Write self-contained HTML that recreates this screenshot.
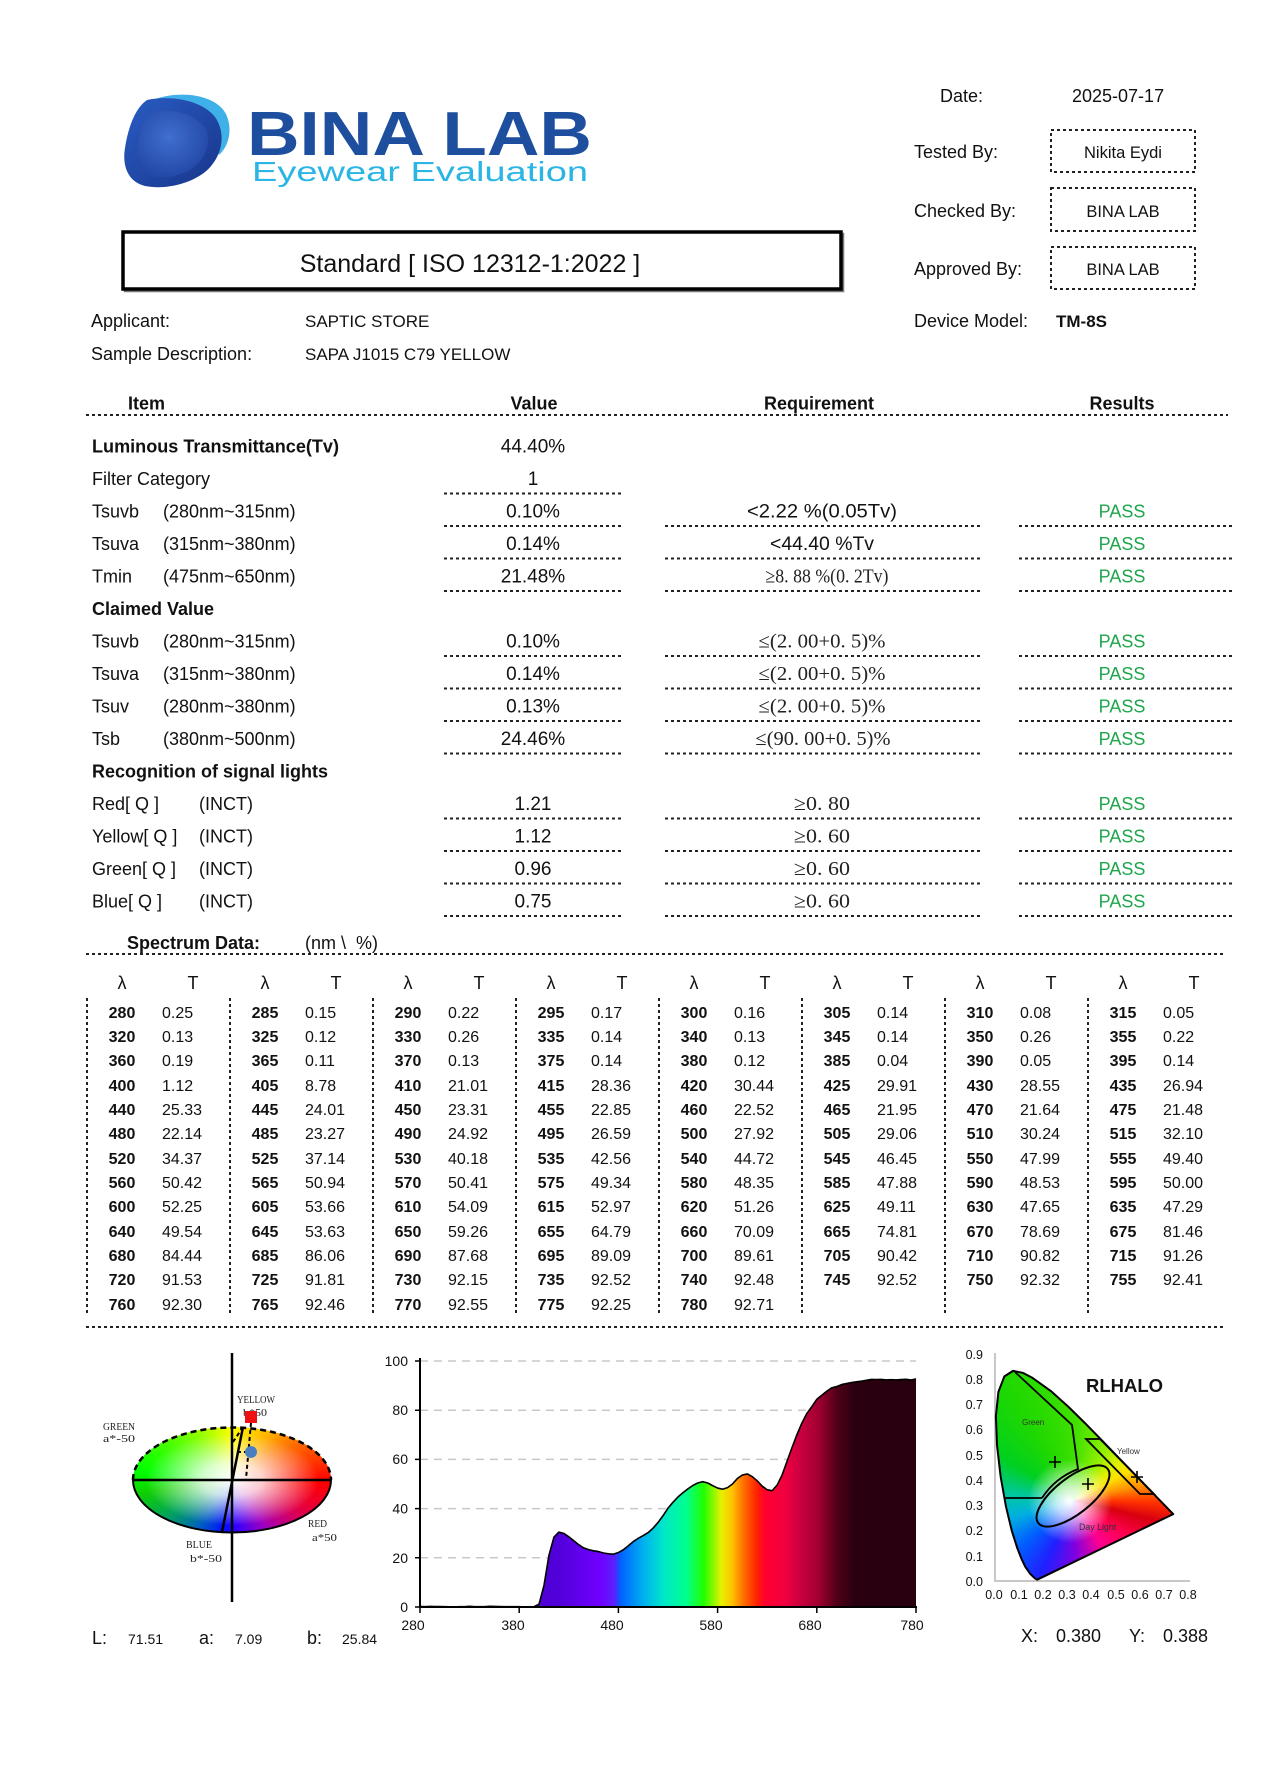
<!DOCTYPE html>
<html>
<head>
<meta charset="utf-8">
<style>
html,body{margin:0;padding:0;background:#fff}
body{width:1278px;height:1776px;position:relative;overflow:hidden;font-family:"Liberation Sans",sans-serif}
.lab{position:absolute;left:133px;top:1427px;width:198px;height:105px;border-radius:50%;
background:
radial-gradient(ellipse at 50% 50%, rgba(255,255,255,1) 0%, rgba(255,255,255,.8) 22%, rgba(255,255,255,0) 62%),
conic-gradient(from 0deg, #ffff00 0deg, #ffb000 40deg, #ff4000 75deg, #ff0000 92deg, #e0004a 115deg, #a000c0 145deg, #3000ff 175deg, #0010ff 190deg, #0060c0 215deg, #00a060 240deg, #10d000 262deg, #00ff00 275deg, #80ff00 318deg, #ffff00 360deg);}
.cie{position:absolute;left:990px;top:1365px;width:190px;height:220px;
background:
radial-gradient(circle at 80px 136px, rgba(255,255,255,1) 0px, rgba(255,255,255,.75) 14px, rgba(255,255,255,0) 42px),
conic-gradient(from 0deg at 85px 135px, #40e000 0deg, #90f000 30deg, #e0f000 50deg, #ffe000 62deg, #ff9000 78deg, #ff3000 92deg, #d80010 104deg, #ff0050 125deg, #ff0090 150deg, #8000e0 180deg, #2020ff 205deg, #0060ff 230deg, #00b0e0 255deg, #00c8a0 275deg, #00d020 300deg, #20d800 330deg, #40e000 360deg);
clip-path:polygon(47.2px 214.7px,44.9px 213.3px,43px 211.5px,39.9px 208.5px,35.1px 201.4px,31.6px 194.1px,27.1px 182.6px,21.7px 165.4px,16px 141.7px,10.7px 112px,7px 80.3px,5.9px 51px,8.4px 26.9px,14.4px 11.4px,23px 5.9px,32.7px 7.8px,42.5px 12.9px,60.7px 25.9px,78.1px 41.5px,95.5px 58.6px,112.7px 76.2px,129.3px 93.4px,144.5px 109.1px,157px 122.1px,172.7px 138.3px,179.4px 145.2px,183.2px 149.1px);}
svg.main{position:absolute;left:0;top:0}
.t{font:18px "Liberation Sans",sans-serif;fill:#111}
.tb{font:bold 18px "Liberation Sans",sans-serif;fill:#111}
.v{font:19px "Liberation Sans",sans-serif;fill:#111}
.s{font:20px "Liberation Serif",serif;fill:#222}
.p{font:18px "Liberation Sans",sans-serif;fill:#1ea64b}
.h{font:18px "Liberation Sans",sans-serif;fill:#111}
.nb{font:bold 16px "Liberation Sans",sans-serif;fill:#111}
.nr{font:16px "Liberation Sans",sans-serif;fill:#111}
.ax{font:14px "Liberation Sans",sans-serif;fill:#111}
.cx{font:12.5px "Liberation Sans",sans-serif;fill:#111}
.lb{font:11px "Liberation Serif",serif;fill:#222}
.d{stroke:#222;stroke-width:2;stroke-dasharray:3 3;fill:none}
</style>
</head>
<body>
<div class="lab"></div>
<div class="cie"></div>
<svg class="main" width="1278" height="1776" viewBox="0 0 1278 1776" xmlns="http://www.w3.org/2000/svg">
<defs>
<linearGradient id="spec" gradientUnits="userSpaceOnUse" x1="0" y1="0" x2="500" y2="0">
<stop offset="0" stop-color="#4a0ac8"/>
<stop offset="0.276" stop-color="#5000d8"/>
<stop offset="0.362" stop-color="#7000ff"/>
<stop offset="0.392" stop-color="#5a20ff"/>
<stop offset="0.404" stop-color="#0060ff"/>
<stop offset="0.45" stop-color="#00b0f0"/>
<stop offset="0.492" stop-color="#00e8c8"/>
<stop offset="0.536" stop-color="#00ff90"/>
<stop offset="0.572" stop-color="#20ff00"/>
<stop offset="0.608" stop-color="#e8f000"/>
<stop offset="0.63" stop-color="#ffc000"/>
<stop offset="0.652" stop-color="#ff7000"/>
<stop offset="0.68" stop-color="#ff2000"/>
<stop offset="0.696" stop-color="#ff0030"/>
<stop offset="0.738" stop-color="#f00040"/>
<stop offset="0.768" stop-color="#c80040"/>
<stop offset="0.804" stop-color="#a00030"/>
<stop offset="0.84" stop-color="#500018"/>
<stop offset="0.876" stop-color="#2a0010"/>
<stop offset="1" stop-color="#280010"/>
</linearGradient>
<linearGradient id="logoD" x1="0" y1="0" x2="1" y2="1">
<stop offset="0" stop-color="#2a5cc4"/>
<stop offset="1" stop-color="#17358a"/>
</linearGradient>
<radialGradient id="logoI" cx="0.45" cy="0.4" r="0.7">
<stop offset="0" stop-color="#3f6fd0"/>
<stop offset="1" stop-color="#1f42a0"/>
</radialGradient>
</defs>

<!-- LOGO -->
<path d="M155,99 C182,90 216,95 226,114 C233,129 229,146 219,155 C214,132 200,114 176,106 Z" fill="#3fb0e8"/>
<path d="M147,100 C170,95 202,100 215,117 C227,134 222,158 205,172 C190,184 165,190 145,186 C128,182 122,166 125,148 C128,128 135,108 147,100 Z" fill="url(#logoD)"/>
<path d="M152,111 C173,108 196,114 206,129 C212,143 205,160 190,170 C175,178 156,180 146,174 C137,168 135,155 139,138 C142,124 146,115 152,111 Z" fill="url(#logoI)"/>
<text x="247" y="155" textLength="345" lengthAdjust="spacingAndGlyphs" style="font:bold 62px 'Liberation Sans',sans-serif;fill:#1d4f9e">BINA LAB</text>
<text x="252" y="181" textLength="336" lengthAdjust="spacingAndGlyphs" style="font:28px 'Liberation Sans',sans-serif;fill:#2bb5e5">Eyewear Evaluation</text>

<!-- Right header -->
<text class="h" x="940" y="102">Date:</text>
<text class="h" x="1072" y="102">2025-07-17</text>
<text class="h" x="914" y="158">Tested By:</text>
<rect x="1051" y="130" width="144" height="42" class="d"/>
<text class="t" x="1123" y="158" text-anchor="middle" style="font-size:16.5px">Nikita Eydi</text>
<text class="h" x="914" y="217">Checked By:</text>
<rect x="1051" y="188" width="144" height="43" class="d"/>
<text class="t" x="1123" y="217" text-anchor="middle" style="font-size:16.5px">BINA LAB</text>
<text class="h" x="914" y="275">Approved By:</text>
<rect x="1051" y="247" width="144" height="42" class="d"/>
<text class="t" x="1123" y="275" text-anchor="middle" style="font-size:16.5px">BINA LAB</text>
<text class="h" x="914" y="327">Device Model:</text>
<text class="tb" x="1056" y="327" style="font-size:17px">TM-8S</text>

<!-- Title box -->
<rect x="125" y="234" width="718" height="57" fill="none" stroke="#777" stroke-width="2.5"/>
<rect x="123" y="232" width="718" height="57" fill="#fff" stroke="#000" stroke-width="3.5"/>
<text x="470" y="272" text-anchor="middle" style="font:25px 'Liberation Sans',sans-serif;fill:#111">Standard [ ISO 12312-1:2022 ]</text>

<text class="t" x="91" y="327">Applicant:</text>
<text class="t" x="305" y="327" style="font-size:17px">SAPTIC STORE</text>
<text class="t" x="91" y="360">Sample Description:</text>
<text class="t" x="305" y="360" style="font-size:17px">SAPA J1015 C79 YELLOW</text>

<!-- Table header -->
<text class="tb" x="128" y="409.5">Item</text>
<text class="tb" x="534" y="409.5" text-anchor="middle">Value</text>
<text class="tb" x="819" y="409.5" text-anchor="middle">Requirement</text>
<text class="tb" x="1122" y="409.5" text-anchor="middle">Results</text>
<line x1="86" y1="415" x2="1228" y2="415" class="d"/>

<!-- Rows -->
<text class="tb" x="92" y="452.5" textLength="247" lengthAdjust="spacingAndGlyphs">Luminous Transmittance(Tv)</text>
<text class="v" x="533" y="452.5" text-anchor="middle">44.40%</text>

<text class="t" x="92" y="485">Filter Category</text>
<text class="v" x="533" y="485" text-anchor="middle">1</text>
<line x1="444" y1="493.5" x2="622" y2="493.5" class="d"/>

<text class="t" x="92" y="517.5">Tsuvb</text><text class="t" x="163" y="517.5">(280nm~315nm)</text>
<text class="v" x="533" y="517.5" text-anchor="middle">0.10%</text>
<text class="v" x="822" y="517.5" text-anchor="middle" textLength="150" lengthAdjust="spacingAndGlyphs">&lt;2.22 %(0.05Tv)</text>
<text class="p" x="1122" y="517.5" text-anchor="middle">PASS</text>

<text class="t" x="92" y="550">Tsuva</text><text class="t" x="163" y="550">(315nm~380nm)</text>
<text class="v" x="533" y="550" text-anchor="middle">0.14%</text>
<text class="v" x="822" y="550" text-anchor="middle" textLength="104" lengthAdjust="spacingAndGlyphs">&lt;44.40 %Tv</text>
<text class="p" x="1122" y="550" text-anchor="middle">PASS</text>

<text class="t" x="92" y="582.5">Tmin</text><text class="t" x="163" y="582.5">(475nm~650nm)</text>
<text class="v" x="533" y="582.5" text-anchor="middle">21.48%</text>
<text class="s" x="827" y="582.5" text-anchor="middle" textLength="123" lengthAdjust="spacingAndGlyphs">≥8. 88 %(0. 2Tv)</text>
<text class="p" x="1122" y="582.5" text-anchor="middle">PASS</text>

<text class="tb" x="92" y="615">Claimed Value</text>

<text class="t" x="92" y="647.5">Tsuvb</text><text class="t" x="163" y="647.5">(280nm~315nm)</text>
<text class="v" x="533" y="647.5" text-anchor="middle">0.10%</text>
<text class="s" x="822" y="647.5" text-anchor="middle" textLength="127" lengthAdjust="spacingAndGlyphs">≤(2. 00+0. 5)%</text>
<text class="p" x="1122" y="647.5" text-anchor="middle">PASS</text>

<text class="t" x="92" y="680">Tsuva</text><text class="t" x="163" y="680">(315nm~380nm)</text>
<text class="v" x="533" y="680" text-anchor="middle">0.14%</text>
<text class="s" x="822" y="680" text-anchor="middle" textLength="127" lengthAdjust="spacingAndGlyphs">≤(2. 00+0. 5)%</text>
<text class="p" x="1122" y="680" text-anchor="middle">PASS</text>

<text class="t" x="92" y="712.5">Tsuv</text><text class="t" x="163" y="712.5">(280nm~380nm)</text>
<text class="v" x="533" y="712.5" text-anchor="middle">0.13%</text>
<text class="s" x="822" y="712.5" text-anchor="middle" textLength="127" lengthAdjust="spacingAndGlyphs">≤(2. 00+0. 5)%</text>
<text class="p" x="1122" y="712.5" text-anchor="middle">PASS</text>

<text class="t" x="92" y="745">Tsb</text><text class="t" x="163" y="745">(380nm~500nm)</text>
<text class="v" x="533" y="745" text-anchor="middle">24.46%</text>
<text class="s" x="823" y="745" text-anchor="middle" textLength="135" lengthAdjust="spacingAndGlyphs">≤(90. 00+0. 5)%</text>
<text class="p" x="1122" y="745" text-anchor="middle">PASS</text>

<text class="tb" x="92" y="777.5">Recognition of signal lights</text>

<text class="t" x="92" y="810">Red[ Q ]</text><text class="t" x="199" y="810">(INCT)</text>
<text class="v" x="533" y="810" text-anchor="middle">1.21</text>
<text class="s" x="822" y="810" text-anchor="middle" textLength="56" lengthAdjust="spacingAndGlyphs">≥0. 80</text>
<text class="p" x="1122" y="810" text-anchor="middle">PASS</text>

<text class="t" x="92" y="842.5">Yellow[ Q ]</text><text class="t" x="199" y="842.5">(INCT)</text>
<text class="v" x="533" y="842.5" text-anchor="middle">1.12</text>
<text class="s" x="822" y="842.5" text-anchor="middle" textLength="56" lengthAdjust="spacingAndGlyphs">≥0. 60</text>
<text class="p" x="1122" y="842.5" text-anchor="middle">PASS</text>

<text class="t" x="92" y="875">Green[ Q ]</text><text class="t" x="199" y="875">(INCT)</text>
<text class="v" x="533" y="875" text-anchor="middle">0.96</text>
<text class="s" x="822" y="875" text-anchor="middle" textLength="56" lengthAdjust="spacingAndGlyphs">≥0. 60</text>
<text class="p" x="1122" y="875" text-anchor="middle">PASS</text>

<text class="t" x="92" y="907.5">Blue[ Q ]</text><text class="t" x="199" y="907.5">(INCT)</text>
<text class="v" x="533" y="907.5" text-anchor="middle">0.75</text>
<text class="s" x="822" y="907.5" text-anchor="middle" textLength="56" lengthAdjust="spacingAndGlyphs">≥0. 60</text>
<text class="p" x="1122" y="907.5" text-anchor="middle">PASS</text>

<!-- dotted row lines -->
<g class="d">
<path d="M444,526H622 M665,526H983 M1019,526H1232
M444,558.5H622 M665,558.5H983 M1019,558.5H1232
M444,591H622 M665,591H983 M1019,591H1232
M444,656H622 M665,656H983 M1019,656H1232
M444,688.5H622 M665,688.5H983 M1019,688.5H1232
M444,721H622 M665,721H983 M1019,721H1232
M444,753.5H622 M665,753.5H983 M1019,753.5H1232
M444,818.5H622 M665,818.5H983 M1019,818.5H1232
M444,851H622 M665,851H983 M1019,851H1232
M444,883.5H622 M665,883.5H983 M1019,883.5H1232
M444,916H622 M665,916H983 M1019,916H1232"/>
</g>

<!-- Spectrum data -->
<text class="tb" x="127" y="949">Spectrum Data:</text>
<text class="t" x="305" y="949" xml:space="preserve">(nm \  %)</text>
<line x1="86" y1="954" x2="1226" y2="954" class="d"/>
<line x1="86" y1="1327" x2="1226" y2="1327" class="d"/>
<g class="d">
<path d="M87,998V1316 M230,998V1316 M373,998V1316 M516,998V1316 M659,998V1316 M802,998V1316 M945,998V1316 M1088,998V1316"/>
</g>
<text class="h" y="989" text-anchor="middle"><tspan x="122">λ</tspan><tspan x="193">T</tspan><tspan x="265">λ</tspan><tspan x="336">T</tspan><tspan x="408">λ</tspan><tspan x="479">T</tspan><tspan x="551">λ</tspan><tspan x="622">T</tspan><tspan x="694">λ</tspan><tspan x="765">T</tspan><tspan x="837">λ</tspan><tspan x="908">T</tspan><tspan x="980">λ</tspan><tspan x="1051">T</tspan><tspan x="1123">λ</tspan><tspan x="1194">T</tspan></text>

<text class="nb" y="1018" text-anchor="middle"><tspan x="122">280</tspan><tspan x="265">285</tspan><tspan x="408">290</tspan><tspan x="551">295</tspan><tspan x="694">300</tspan><tspan x="837">305</tspan><tspan x="980">310</tspan><tspan x="1123">315</tspan></text>
<text class="nr" y="1018"><tspan x="162">0.25</tspan><tspan x="305">0.15</tspan><tspan x="448">0.22</tspan><tspan x="591">0.17</tspan><tspan x="734">0.16</tspan><tspan x="877">0.14</tspan><tspan x="1020">0.08</tspan><tspan x="1163">0.05</tspan></text>

<text class="nb" y="1042" text-anchor="middle"><tspan x="122">320</tspan><tspan x="265">325</tspan><tspan x="408">330</tspan><tspan x="551">335</tspan><tspan x="694">340</tspan><tspan x="837">345</tspan><tspan x="980">350</tspan><tspan x="1123">355</tspan></text>
<text class="nr" y="1042"><tspan x="162">0.13</tspan><tspan x="305">0.12</tspan><tspan x="448">0.26</tspan><tspan x="591">0.14</tspan><tspan x="734">0.13</tspan><tspan x="877">0.14</tspan><tspan x="1020">0.26</tspan><tspan x="1163">0.22</tspan></text>

<text class="nb" y="1066" text-anchor="middle"><tspan x="122">360</tspan><tspan x="265">365</tspan><tspan x="408">370</tspan><tspan x="551">375</tspan><tspan x="694">380</tspan><tspan x="837">385</tspan><tspan x="980">390</tspan><tspan x="1123">395</tspan></text>
<text class="nr" y="1066"><tspan x="162">0.19</tspan><tspan x="305">0.11</tspan><tspan x="448">0.13</tspan><tspan x="591">0.14</tspan><tspan x="734">0.12</tspan><tspan x="877">0.04</tspan><tspan x="1020">0.05</tspan><tspan x="1163">0.14</tspan></text>

<text class="nb" y="1091" text-anchor="middle"><tspan x="122">400</tspan><tspan x="265">405</tspan><tspan x="408">410</tspan><tspan x="551">415</tspan><tspan x="694">420</tspan><tspan x="837">425</tspan><tspan x="980">430</tspan><tspan x="1123">435</tspan></text>
<text class="nr" y="1091"><tspan x="162">1.12</tspan><tspan x="305">8.78</tspan><tspan x="448">21.01</tspan><tspan x="591">28.36</tspan><tspan x="734">30.44</tspan><tspan x="877">29.91</tspan><tspan x="1020">28.55</tspan><tspan x="1163">26.94</tspan></text>

<text class="nb" y="1115" text-anchor="middle"><tspan x="122">440</tspan><tspan x="265">445</tspan><tspan x="408">450</tspan><tspan x="551">455</tspan><tspan x="694">460</tspan><tspan x="837">465</tspan><tspan x="980">470</tspan><tspan x="1123">475</tspan></text>
<text class="nr" y="1115"><tspan x="162">25.33</tspan><tspan x="305">24.01</tspan><tspan x="448">23.31</tspan><tspan x="591">22.85</tspan><tspan x="734">22.52</tspan><tspan x="877">21.95</tspan><tspan x="1020">21.64</tspan><tspan x="1163">21.48</tspan></text>

<text class="nb" y="1139" text-anchor="middle"><tspan x="122">480</tspan><tspan x="265">485</tspan><tspan x="408">490</tspan><tspan x="551">495</tspan><tspan x="694">500</tspan><tspan x="837">505</tspan><tspan x="980">510</tspan><tspan x="1123">515</tspan></text>
<text class="nr" y="1139"><tspan x="162">22.14</tspan><tspan x="305">23.27</tspan><tspan x="448">24.92</tspan><tspan x="591">26.59</tspan><tspan x="734">27.92</tspan><tspan x="877">29.06</tspan><tspan x="1020">30.24</tspan><tspan x="1163">32.10</tspan></text>

<text class="nb" y="1164" text-anchor="middle"><tspan x="122">520</tspan><tspan x="265">525</tspan><tspan x="408">530</tspan><tspan x="551">535</tspan><tspan x="694">540</tspan><tspan x="837">545</tspan><tspan x="980">550</tspan><tspan x="1123">555</tspan></text>
<text class="nr" y="1164"><tspan x="162">34.37</tspan><tspan x="305">37.14</tspan><tspan x="448">40.18</tspan><tspan x="591">42.56</tspan><tspan x="734">44.72</tspan><tspan x="877">46.45</tspan><tspan x="1020">47.99</tspan><tspan x="1163">49.40</tspan></text>

<text class="nb" y="1188" text-anchor="middle"><tspan x="122">560</tspan><tspan x="265">565</tspan><tspan x="408">570</tspan><tspan x="551">575</tspan><tspan x="694">580</tspan><tspan x="837">585</tspan><tspan x="980">590</tspan><tspan x="1123">595</tspan></text>
<text class="nr" y="1188"><tspan x="162">50.42</tspan><tspan x="305">50.94</tspan><tspan x="448">50.41</tspan><tspan x="591">49.34</tspan><tspan x="734">48.35</tspan><tspan x="877">47.88</tspan><tspan x="1020">48.53</tspan><tspan x="1163">50.00</tspan></text>

<text class="nb" y="1212" text-anchor="middle"><tspan x="122">600</tspan><tspan x="265">605</tspan><tspan x="408">610</tspan><tspan x="551">615</tspan><tspan x="694">620</tspan><tspan x="837">625</tspan><tspan x="980">630</tspan><tspan x="1123">635</tspan></text>
<text class="nr" y="1212"><tspan x="162">52.25</tspan><tspan x="305">53.66</tspan><tspan x="448">54.09</tspan><tspan x="591">52.97</tspan><tspan x="734">51.26</tspan><tspan x="877">49.11</tspan><tspan x="1020">47.65</tspan><tspan x="1163">47.29</tspan></text>

<text class="nb" y="1237" text-anchor="middle"><tspan x="122">640</tspan><tspan x="265">645</tspan><tspan x="408">650</tspan><tspan x="551">655</tspan><tspan x="694">660</tspan><tspan x="837">665</tspan><tspan x="980">670</tspan><tspan x="1123">675</tspan></text>
<text class="nr" y="1237"><tspan x="162">49.54</tspan><tspan x="305">53.63</tspan><tspan x="448">59.26</tspan><tspan x="591">64.79</tspan><tspan x="734">70.09</tspan><tspan x="877">74.81</tspan><tspan x="1020">78.69</tspan><tspan x="1163">81.46</tspan></text>

<text class="nb" y="1261" text-anchor="middle"><tspan x="122">680</tspan><tspan x="265">685</tspan><tspan x="408">690</tspan><tspan x="551">695</tspan><tspan x="694">700</tspan><tspan x="837">705</tspan><tspan x="980">710</tspan><tspan x="1123">715</tspan></text>
<text class="nr" y="1261"><tspan x="162">84.44</tspan><tspan x="305">86.06</tspan><tspan x="448">87.68</tspan><tspan x="591">89.09</tspan><tspan x="734">89.61</tspan><tspan x="877">90.42</tspan><tspan x="1020">90.82</tspan><tspan x="1163">91.26</tspan></text>

<text class="nb" y="1285" text-anchor="middle"><tspan x="122">720</tspan><tspan x="265">725</tspan><tspan x="408">730</tspan><tspan x="551">735</tspan><tspan x="694">740</tspan><tspan x="837">745</tspan><tspan x="980">750</tspan><tspan x="1123">755</tspan></text>
<text class="nr" y="1285"><tspan x="162">91.53</tspan><tspan x="305">91.81</tspan><tspan x="448">92.15</tspan><tspan x="591">92.52</tspan><tspan x="734">92.48</tspan><tspan x="877">92.52</tspan><tspan x="1020">92.32</tspan><tspan x="1163">92.41</tspan></text>

<text class="nb" y="1310" text-anchor="middle"><tspan x="122">760</tspan><tspan x="265">765</tspan><tspan x="408">770</tspan><tspan x="551">775</tspan><tspan x="694">780</tspan></text>
<text class="nr" y="1310"><tspan x="162">92.30</tspan><tspan x="305">92.46</tspan><tspan x="448">92.55</tspan><tspan x="591">92.25</tspan><tspan x="734">92.71</tspan></text>

<!-- Lab chart -->
<path d="M133,1480 A99,52.5 0 0 0 331,1480" fill="none" stroke="#000" stroke-width="2"/>
<path d="M133,1480 A99,52.5 0 0 1 331,1480" fill="none" stroke="#000" stroke-width="2.5" stroke-dasharray="6 4"/>
<line x1="232" y1="1353" x2="232" y2="1602" stroke="#000" stroke-width="2.5"/>
<line x1="133" y1="1480" x2="331" y2="1480" stroke="#000" stroke-width="2.5"/>
<line x1="222" y1="1532" x2="243" y2="1427" stroke="#000" stroke-width="2.5"/>
<line x1="233" y1="1442" x2="243" y2="1427" stroke="#000" stroke-width="2" stroke-dasharray="4 3"/>
<line x1="251" y1="1423" x2="246" y2="1479" stroke="#000" stroke-width="2" stroke-dasharray="4 3"/>
<line x1="237" y1="1452" x2="251" y2="1452" stroke="#000" stroke-width="2" stroke-dasharray="4 3"/>
<text class="lb" x="237" y="1403" textLength="38" lengthAdjust="spacingAndGlyphs">YELLOW</text>
<text class="lb" x="243" y="1416" textLength="24" lengthAdjust="spacingAndGlyphs">b*50</text>
<rect x="245" y="1411" width="12" height="12" fill="#ee1111"/>
<circle cx="251" cy="1452" r="6" fill="#4a7fc0"/>
<text class="lb" x="103" y="1430" textLength="32" lengthAdjust="spacingAndGlyphs">GREEN</text>
<text class="lb" x="103" y="1442" textLength="32" lengthAdjust="spacingAndGlyphs">a*-50</text>
<text class="lb" x="308" y="1527" textLength="19" lengthAdjust="spacingAndGlyphs">RED</text>
<text class="lb" x="312" y="1541" textLength="25" lengthAdjust="spacingAndGlyphs">a*50</text>
<text class="lb" x="186" y="1548" textLength="26" lengthAdjust="spacingAndGlyphs">BLUE</text>
<text class="lb" x="190" y="1562" textLength="32" lengthAdjust="spacingAndGlyphs">b*-50</text>
<text class="h" x="92" y="1644">L:</text>
<text class="ax" x="128" y="1644">71.51</text>
<text class="h" x="199" y="1644">a:</text>
<text class="ax" x="235" y="1644">7.09</text>
<text class="h" x="307" y="1644">b:</text>
<text class="ax" x="342" y="1644">25.84</text>

<!-- Spectrum chart -->
<g stroke="#c8c8c8" stroke-width="1.5" stroke-dasharray="8 6">
<line x1="420" y1="1557.8" x2="916" y2="1557.8"/>
<line x1="420" y1="1508.6" x2="916" y2="1508.6"/>
<line x1="420" y1="1459.4" x2="916" y2="1459.4"/>
<line x1="420" y1="1410.2" x2="916" y2="1410.2"/>
<line x1="420" y1="1361" x2="916" y2="1361"/>
</g>
<g transform="translate(420,1607) scale(0.992,-2.46)">
<polygon fill="url(#spec)" points="0,0 0,0.25 5,0.15 10,0.22 15,0.17 20,0.16 25,0.14 30,0.08 35,0.05 40,0.13 45,0.12 50,0.26 55,0.14 60,0.13 65,0.14 70,0.26 75,0.22 80,0.19 85,0.11 90,0.13 95,0.14 100,0.12 105,0.04 110,0.05 115,0.14 120,1.12 125,8.78 130,21.01 135,28.36 140,30.44 145,29.91 150,28.55 155,26.94 160,25.33 165,24.01 170,23.31 175,22.85 180,22.52 185,21.95 190,21.64 195,21.48 200,22.14 205,23.27 210,24.92 215,26.59 220,27.92 225,29.06 230,30.24 235,32.10 240,34.37 245,37.14 250,40.18 255,42.56 260,44.72 265,46.45 270,47.99 275,49.40 280,50.42 285,50.94 290,50.41 295,49.34 300,48.35 305,47.88 310,48.53 315,50.00 320,52.25 325,53.66 330,54.09 335,52.97 340,51.26 345,49.11 350,47.65 355,47.29 360,49.54 365,53.63 370,59.26 375,64.79 380,70.09 385,74.81 390,78.69 395,81.46 400,84.44 405,86.06 410,87.68 415,89.09 420,89.61 425,90.42 430,90.82 435,91.26 440,91.53 445,91.81 450,92.15 455,92.52 460,92.48 465,92.52 470,92.32 475,92.41 480,92.30 485,92.46 490,92.55 495,92.25 500,92.71 500,0"/>
<polyline fill="none" stroke="#000" stroke-width="1.6" vector-effect="non-scaling-stroke" stroke-linejoin="round" points="0,0.25 5,0.15 10,0.22 15,0.17 20,0.16 25,0.14 30,0.08 35,0.05 40,0.13 45,0.12 50,0.26 55,0.14 60,0.13 65,0.14 70,0.26 75,0.22 80,0.19 85,0.11 90,0.13 95,0.14 100,0.12 105,0.04 110,0.05 115,0.14 120,1.12 125,8.78 130,21.01 135,28.36 140,30.44 145,29.91 150,28.55 155,26.94 160,25.33 165,24.01 170,23.31 175,22.85 180,22.52 185,21.95 190,21.64 195,21.48 200,22.14 205,23.27 210,24.92 215,26.59 220,27.92 225,29.06 230,30.24 235,32.10 240,34.37 245,37.14 250,40.18 255,42.56 260,44.72 265,46.45 270,47.99 275,49.40 280,50.42 285,50.94 290,50.41 295,49.34 300,48.35 305,47.88 310,48.53 315,50.00 320,52.25 325,53.66 330,54.09 335,52.97 340,51.26 345,49.11 350,47.65 355,47.29 360,49.54 365,53.63 370,59.26 375,64.79 380,70.09 385,74.81 390,78.69 395,81.46 400,84.44 405,86.06 410,87.68 415,89.09 420,89.61 425,90.42 430,90.82 435,91.26 440,91.53 445,91.81 450,92.15 455,92.52 460,92.48 465,92.52 470,92.32 475,92.41 480,92.30 485,92.46 490,92.55 495,92.25 500,92.71"/>
</g>
<line x1="420" y1="1358" x2="420" y2="1608" stroke="#000" stroke-width="2"/>
<line x1="419" y1="1607" x2="917" y2="1607" stroke="#000" stroke-width="2"/>
<g stroke="#000" stroke-width="1.5">
<path d="M415,1361H420 M415,1410.2H420 M415,1459.4H420 M415,1508.6H420 M415,1557.8H420 M415,1607H420"/>
<path d="M420,1607V1613 M519.2,1607V1613 M618.4,1607V1613 M717.6,1607V1613 M816.8,1607V1613 M916,1607V1613"/>
</g>
<g class="ax" text-anchor="end">
<text x="408" y="1366">100</text>
<text x="408" y="1415">80</text>
<text x="408" y="1464">60</text>
<text x="408" y="1513.5">40</text>
<text x="408" y="1563">20</text>
<text x="408" y="1612">0</text>
</g>
<g class="ax" text-anchor="middle">
<text x="413" y="1630">280</text>
<text x="513" y="1630">380</text>
<text x="612" y="1630">480</text>
<text x="711" y="1630">580</text>
<text x="810" y="1630">680</text>
<text x="912" y="1630">780</text>
</g>

<!-- CIE chart -->
<line x1="995" y1="1353" x2="995" y2="1582" stroke="#c8c8c8" stroke-width="2"/>
<line x1="994" y1="1581" x2="1190" y2="1581" stroke="#c8c8c8" stroke-width="2"/>
<path d="M1037.2,1579.7 L1034.9,1578.3 L1033,1576.5 L1029.9,1573.5 L1025.1,1566.4 L1021.6,1559.1 L1017.1,1547.6 L1011.7,1530.4 L1006,1506.7 L1000.7,1477 L997,1445.3 L995.9,1416 L998.4,1391.9 L1004.4,1376.4 L1013,1370.9 L1022.7,1372.8 L1032.5,1377.9 L1050.7,1390.9 L1068.1,1406.5 L1085.5,1423.6 L1102.7,1441.2 L1119.3,1458.4 L1134.5,1474.1 L1147,1487.1 L1162.7,1503.3 L1169.4,1510.2 L1173.2,1514.1 Z" fill="none" stroke="#000" stroke-width="2" stroke-linejoin="round"/>
<path d="M1015,1372 L1072,1425 L1078,1469 Q1055,1478 1042,1498 M1005,1498 L1042,1498" fill="none" stroke="#000" stroke-width="1.8"/>
<polygon points="1086,1439 1100,1439 1154,1494 1140,1494" fill="none" stroke="#000" stroke-width="1.8"/>
<ellipse cx="1073" cy="1496" rx="44" ry="18" transform="rotate(-38 1073 1496)" fill="none" stroke="#000" stroke-width="2"/>
<g stroke="#000" stroke-width="1.6">
<path d="M1049,1462H1061 M1055,1456V1468"/>
<path d="M1082,1484H1094 M1088,1478V1490"/>
<path d="M1131,1477H1143 M1137,1471V1483"/>
</g>
<text x="1022" y="1425" style="font:8px 'Liberation Sans',sans-serif;fill:#333">Green</text>
<text x="1117" y="1454" style="font:8px 'Liberation Sans',sans-serif;fill:#333">Yellow</text>
<text x="1079" y="1530" style="font:8.8px 'Liberation Sans',sans-serif;fill:#333">Day Light</text>
<text x="1086" y="1392" textLength="77" lengthAdjust="spacingAndGlyphs" style="font:bold 18px 'Liberation Sans',sans-serif;fill:#111">RLHALO</text>
<g class="cx" text-anchor="end">
<text x="983" y="1359">0.9</text>
<text x="983" y="1384">0.8</text>
<text x="983" y="1409">0.7</text>
<text x="983" y="1434">0.6</text>
<text x="983" y="1460">0.5</text>
<text x="983" y="1485">0.4</text>
<text x="983" y="1510">0.3</text>
<text x="983" y="1535">0.2</text>
<text x="983" y="1561">0.1</text>
<text x="983" y="1586">0.0</text>
</g>
<g class="cx" text-anchor="middle">
<text x="994" y="1599">0.0</text>
<text x="1019" y="1599">0.1</text>
<text x="1043" y="1599">0.2</text>
<text x="1067" y="1599">0.3</text>
<text x="1091" y="1599">0.4</text>
<text x="1116" y="1599">0.5</text>
<text x="1140" y="1599">0.6</text>
<text x="1164" y="1599">0.7</text>
<text x="1188" y="1599">0.8</text>
</g>
<text class="h" x="1021" y="1642">X:</text>
<text class="h" x="1056" y="1642">0.380</text>
<text class="h" x="1129" y="1642">Y:</text>
<text class="h" x="1163" y="1642">0.388</text>
</svg>
</body>
</html>
